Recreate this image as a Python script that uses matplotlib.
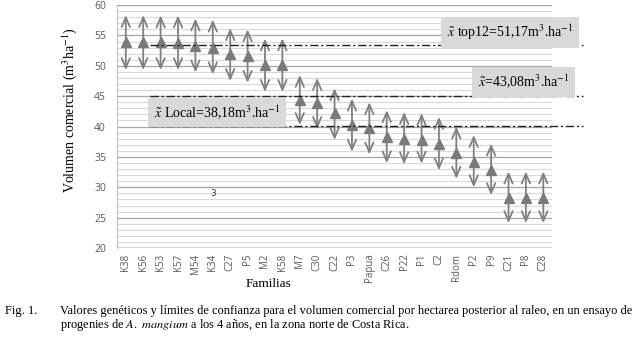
import matplotlib
matplotlib.use("Agg")
import matplotlib.pyplot as plt
from matplotlib.ticker import MultipleLocator

plt.rcParams['mathtext.fontset'] = 'stix'

familias = ['K38', 'K56', 'K53', 'K57', 'M54', 'K34', 'C27', 'P5', 'M2', 'K58',
            'M7', 'C30', 'C22', 'P3', 'Papua', 'C26', 'P22', 'P1', 'C2', 'Rdom',
            'P2', 'P9', 'C21', 'P8', 'C28']
valor = [53.9, 53.9, 53.85, 53.8, 53.3, 53.0, 51.9, 51.6, 50.1, 50.1,
         44.4, 43.8, 42.2, 40.25, 39.7, 38.2, 38.0, 37.8, 37.1, 35.7,
         34.2, 32.8, 28.3, 28.3, 28.3]
lim_sup = [58.35, 58.35, 58.3, 58.3, 57.8, 57.6, 56.2, 56.0, 54.5, 54.5,
           48.5, 48.0, 46.3, 44.6, 44.0, 42.7, 42.4, 42.2, 41.6, 40.0,
           38.6, 37.2, 32.6, 32.6, 32.6]
lim_inf = [49.3, 49.3, 49.3, 49.3, 48.9, 48.6, 47.5, 47.2, 45.7, 45.7,
           40.25, 39.6, 37.8, 35.85, 35.4, 33.95, 33.8, 33.9, 32.8, 31.4,
           30.0, 28.7, 24.1, 24.1, 24.1]

# lineas de referencia (posicion en el grafico)
ref_top12 = 53.4
ref_media = 45.0
ref_local = 40.1

fig = plt.figure(figsize=(6.4, 3.37), dpi=100)
ax = fig.add_axes([0.183, 0.264, 0.6795, 0.721])

x = list(range(len(familias)))
ax.set_xlim(-0.5, len(familias) - 0.5)
ax.set_ylim(20, 60)

ax.yaxis.set_major_locator(MultipleLocator(5))
ax.yaxis.set_minor_locator(MultipleLocator(1))
ax.grid(which='major', axis='y', color='#a6a6a6', lw=0.9, zorder=0)
ax.grid(which='minor', axis='y', color='#d9d9d9', lw=0.8, zorder=0)
ax.set_axisbelow(True)

for s in ['top', 'right', 'bottom']:
    ax.spines[s].set_visible(False)
ax.spines['left'].set_color('#bfbfbf')
ax.axhline(20, color='#d0d0d0', lw=1.2, zorder=1)

ax.set_xticks(x)
ax.set_xticklabels(familias, rotation=90, fontsize=7, color='#595959', family='Open Sans')
ax.tick_params(axis='x', length=0, pad=4)
ax.tick_params(axis='y', which='both', length=0, labelsize=7.5, labelcolor='#595959', pad=8)
for lab in ax.get_yticklabels():
    lab.set_family('Open Sans')

for i in x:
    ax.annotate('', xy=(i, lim_sup[i]), xytext=(i, lim_inf[i]),
                arrowprops=dict(arrowstyle='<->,head_length=0.7,head_width=0.3',
                                color='#808080', lw=1.3, shrinkA=0, shrinkB=0),
                zorder=3)
ax.plot(x, valor, '^', color='#7a7a7a', ms=7, zorder=4)

for yref in [ref_top12, ref_media, ref_local]:
    ax.plot([1.4, 26.3], [yref, yref], color='#222222', lw=1.0,
            ls=(0, (6, 2, 1.5, 2)), clip_on=False, zorder=5)

box = dict(boxstyle='square,pad=0.4', fc='#d9d9d9', ec='none')
ax.text(22.1, 55.45, r'$\tilde{x}$ top12=51,17m$^{3}$.ha$^{-1}$', fontsize=10,
        family='Liberation Serif', ha='center', va='center', bbox=box, zorder=6)
ax.text(22.85, 47.35, r'$\tilde{x}$=43,08m$^{3}$.ha$^{-1}$', fontsize=10,
        family='Liberation Serif', ha='center', va='center', bbox=box, zorder=6)
ax.text(5.25, 42.3, r'$\tilde{x}$ Local=38,18m$^{3}$.ha$^{-1}$', fontsize=10,
        family='Liberation Serif', ha='center', va='center', bbox=box, zorder=6)

ax.text(5, 28.9, '3', fontsize=6.5, color='#404040', ha='center', va='center')

fig.text(0.108, 0.672, r'Volumen comercial (m$^{3}$ha$^{-1}$)', rotation=90,
         ha='center', va='center', fontsize=10, family='Liberation Serif')
fig.text(0.42, 0.157, 'Familias', ha='center', va='center', fontsize=9.5,
         family='Liberation Serif')

fig.text(0.008, 0.077, 'Fig. 1.', fontsize=8.9, family='Liberation Serif', va='center')
fig.text(0.094, 0.077, 'Valores genéticos y límites de confianza para el volumen comercial '
         'por hectarea posterior al raleo, en un ensayo de', fontsize=8.9,
         family='Liberation Serif', va='center')
fig.text(0.094, 0.035, r'progenies de $\it{A.\ mangium}$ a los 4 años, en la zona norte de Costa Rica.',
         fontsize=8.9, family='Liberation Serif', va='center')

fig.savefig('out.png', dpi=100)
